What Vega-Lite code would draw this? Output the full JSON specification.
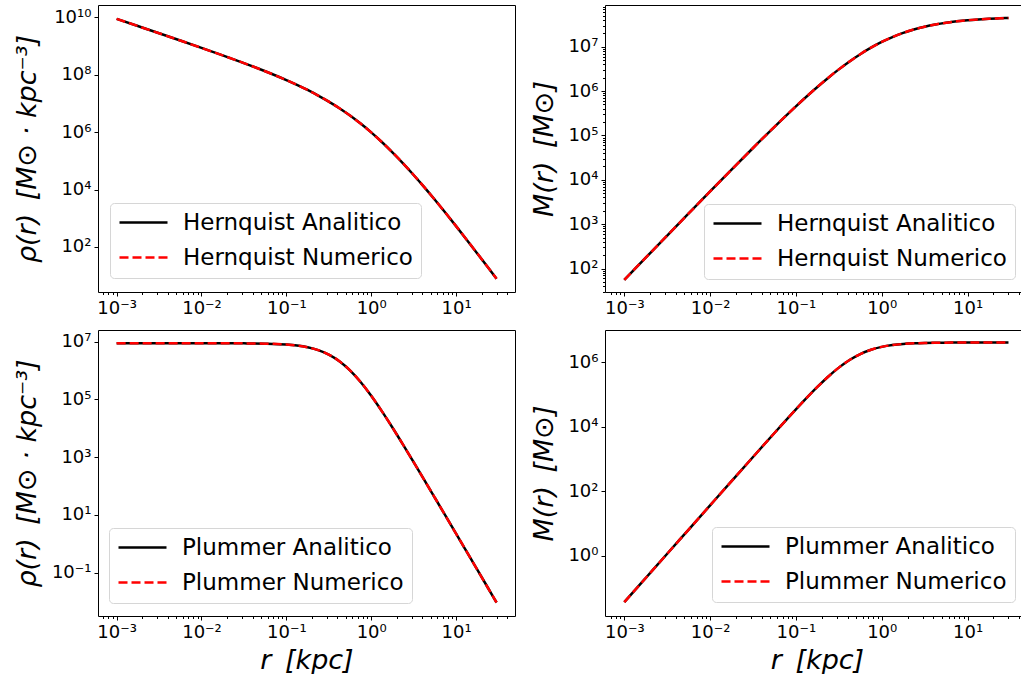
{
  "$schema": "https://vega.github.io/schema/vega-lite/v6.json",
  "padding": {"left": 12, "top": 4, "right": 0, "bottom": 0},
  "background": "white",
  "datasets": {
    "prof": [
      {"r": 0.001, "rhoH": 8.87e9, "MH": 55.8, "rhoP": 8.851e6, "MP": 0.03708},
      {"r": 0.0017783, "rhoH": 4.973e9, "MH": 176.1, "rhoP": 8.8507e6, "MP": 0.2085},
      {"r": 0.0031623, "rhoH": 2.784e9, "MH": 555.1, "rhoP": 8.850e6, "MP": 1.1723},
      {"r": 0.0056234, "rhoH": 1.553e9, "MH": 1746, "rhoP": 8.848e6, "MP": 6.592},
      {"r": 0.01, "rhoH": 8.61e8, "MH": 5470, "rhoP": 8.841e6, "MP": 37.05},
      {"r": 0.017783, "rhoH": 4.723e8, "MH": 1.701e4, "rhoP": 8.821e6, "MP": 208.1},
      {"r": 0.031623, "rhoH": 2.542e8, "MH": 5.224e4, "rhoP": 8.755e6, "MP": 1165},
      {"r": 0.056234, "rhoH": 1.324e8, "MH": 1.570e5, "rhoP": 8.554e6, "MP": 6461},
      {"r": 0.1, "rhoH": 6.527e7, "MH": 4.546e5, "rhoP": 7.96e6, "MP": 3.478e4},
      {"r": 0.13335, "rhoH": 4.444e7, "MH": 7.583e5, "rhoP": 7.350e6, "MP": 7.865e4},
      {"r": 0.17783, "rhoH": 2.943e7, "MH": 1.241e6, "rhoP": 6.418e6, "MP": 1.719e5},
      {"r": 0.23714, "rhoH": 1.885e7, "MH": 1.987e6, "rhoP": 5.128e6, "MP": 3.563e5},
      {"r": 0.31623, "rhoH": 1.159e7, "MH": 3.095e6, "rhoP": 3.594e6, "MP": 6.828e5},
      {"r": 0.4217, "rhoH": 6.801e6, "MH": 4.673e6, "rhoP": 2.118e6, "MP": 1.179e6},
      {"r": 0.56234, "rhoH": 3.782e6, "MH": 6.808e6, "rhoP": 1.021e6, "MP": 1.804e6},
      {"r": 0.74989, "rhoH": 1.984e6, "MH": 9.54e6, "rhoP": 4.03e5, "MP": 2.449e6},
      {"r": 1, "rhoH": 9.79e5, "MH": 1.283e7, "rhoP": 1.343e5, "MP": 3.005e6},
      {"r": 1.3335, "rhoH": 4.539e5, "MH": 1.657e7, "rhoP": 3.945e4, "MP": 3.416e6},
      {"r": 1.7783, "rhoH": 1.983e5, "MH": 2.055e7, "rhoP": 1.0638e4, "MP": 3.689e6},
      {"r": 2.3714, "rhoH": 8.193e4, "MH": 2.455e7, "rhoP": 2720, "MP": 3.860e6},
      {"r": 3.1623, "rhoH": 3.219e4, "MH": 2.839e7, "rhoP": 673.8, "MP": 3.962e6},
      {"r": 4.217, "rhoH": 1.212e4, "MH": 3.188e7, "rhoP": 163.8, "MP": 4.021e6},
      {"r": 5.6234, "rhoH": 4397, "MH": 3.494e7, "rhoP": 39.38, "MP": 4.055e6},
      {"r": 7.4989, "rhoH": 1548, "MH": 3.753e7, "rhoP": 9.415, "MP": 4.075e6},
      {"r": 10, "rhoH": 531.8, "MH": 3.967e7, "rhoP": 2.243, "MP": 4.086e6},
      {"r": 13.335, "rhoH": 179.3, "MH": 4.140e7, "rhoP": 0.5331, "MP": 4.092e6},
      {"r": 17.783, "rhoH": 59.55, "MH": 4.277e7, "rhoP": 0.1266, "MP": 4.095e6},
      {"r": 23.714, "rhoH": 19.54, "MH": 4.384e7, "rhoP": 0.03005, "MP": 4.097e6},
      {"r": 30, "rhoH": 7.81, "MH": 4.453e7, "rhoP": 0.009275, "MP": 4.0973e6}
    ]
  },
  "config": {
    "view": {"stroke": "#000000", "strokeWidth": 1},
    "axis": {
      "domain": false, "grid": false,
      "labelFont": "DejaVu Sans", "labelFontSize": 18, "labelColor": "#000000",
      "labelFlush": false, "labelOverlap": false, "labelPadding": 3,
      "tickColor": "#000000", "tickWidth": 1, "tickSize": 4,
      "titleFont": "DejaVu Sans", "titleFontSize": 27, "titleFontStyle": "italic",
      "titleFontWeight": "normal", "titleColor": "#000000"
    },
    "legend": {
      "orient": "none", "zindex": 5,
      "labelFont": "DejaVu Sans", "labelFontSize": 23, "labelColor": "#000000",
      "labelLimit": 500, "labelOffset": 42,
      "symbolType": "M-1,0L3.8,0", "symbolSize": 400, "symbolStrokeWidth": 2.5,
      "rowPadding": 11, "padding": 8,
      "fillColor": "white", "strokeColor": "#d6d6d6", "cornerRadius": 4
    }
  },
  "spacing": 8,
  "resolve": {"scale": {"color": "independent", "x": "independent", "y": "independent"}, "legend": {"color": "independent"}},
  "vconcat": [
    {
      "spacing": 13,
      "resolve": {"scale": {"color": "independent", "x": "independent", "y": "independent"}, "legend": {"color": "independent"}},
      "hconcat": [
        {
          "width": 417, "height": 287,
          "data": {"name": "prof"},
          "resolve": {"axis": {"x": "independent", "y": "independent"}},
          "layer": [
            {
              "mark": {"type": "line", "strokeWidth": 2.5, "interpolate": "monotone"},
              "encoding": {
                "x": {"field": "r", "type": "quantitative",
                  "scale": {"type": "log", "domain": [0.000603, 49.5], "nice": false},
                  "axis": {"orient": "bottom", "title": null, "values": [0.001, 0.01, 0.1, 1, 10], "minExtent": 28, "maxExtent": 28,
                    "labelExpr": "datum.value < 0.003 ? '10⁻³' : datum.value < 0.03 ? '10⁻²' : datum.value < 0.3 ? '10⁻¹' : datum.value < 3 ? '10⁰' : '10¹'"}},
                "y": {"field": "rhoH", "type": "quantitative",
                  "scale": {"type": "log", "domain": [2.69, 2.69e10], "nice": false},
                  "axis": {"orient": "left", "title": "ρ(r)\u2002[M⊙ · kpc⁻³]", "titlePadding": 7, "values": [100, 10000, 1000000, 100000000, 10000000000], "minExtent": 50, "maxExtent": 50,
                    "labelExpr": "datum.value < 1e3 ? '10²' : datum.value < 1e5 ? '10⁴' : datum.value < 1e7 ? '10⁶' : datum.value < 1e9 ? '10⁸' : '10¹⁰'"}},
                "color": {"datum": "Hernquist Analitico",
                  "scale": {"domain": ["Hernquist Analitico", "Hernquist Numerico"], "range": ["#000000", "#ff0000"]},
                  "legend": {"title": null, "legendX": 12, "legendY": 198,
                    "encode": {"symbols": {"update": {"strokeDash": {"signal": "datum.value == 'Hernquist Numerico' ? [9, 4] : [1, 0]"}}}}}}
              }
            },
            {
              "mark": {"type": "line", "strokeWidth": 2.5, "strokeDash": [9, 4], "interpolate": "monotone"},
              "encoding": {
                "x": {"field": "r", "type": "quantitative",
                  "axis": {"orient": "bottom", "title": null, "labels": false, "tickSize": 2.5, "maxExtent": 3, "minExtent": 0,
                    "values": [0.0007, 0.0008, 0.0009, 0.002, 0.003, 0.004, 0.005, 0.006, 0.007, 0.008, 0.009, 0.02, 0.03, 0.04, 0.05, 0.06, 0.07, 0.08, 0.09, 0.2, 0.3, 0.4, 0.5, 0.6, 0.7, 0.8, 0.9, 2, 3, 4, 5, 6, 7, 8, 9, 20, 30, 40]}},
                "y": {"field": "rhoH", "type": "quantitative", "axis": null},
                "color": {"datum": "Hernquist Numerico"}
              }
            }
          ]
        },
        {
          "width": 419, "height": 287,
          "data": {"name": "prof"},
          "resolve": {"axis": {"x": "independent", "y": "independent"}},
          "layer": [
            {
              "mark": {"type": "line", "strokeWidth": 2.5, "interpolate": "monotone"},
              "encoding": {
                "x": {"field": "r", "type": "quantitative",
                  "scale": {"type": "log", "domain": [0.0005957, 45.5], "nice": false},
                  "axis": {"orient": "bottom", "title": null, "values": [0.001, 0.01, 0.1, 1, 10], "minExtent": 28, "maxExtent": 28,
                    "labelExpr": "datum.value < 0.003 ? '10⁻³' : datum.value < 0.03 ? '10⁻²' : datum.value < 0.3 ? '10⁻¹' : datum.value < 3 ? '10⁰' : '10¹'"}},
                "y": {"field": "MH", "type": "quantitative",
                  "scale": {"type": "log", "domain": [29.6, 8.75e7], "nice": false},
                  "axis": {"orient": "left", "title": "M(r)\u2002[M⊙]", "titlePadding": 8, "values": [100, 1000, 10000, 100000, 1000000, 10000000], "minExtent": 39, "maxExtent": 39,
                    "labelExpr": "datum.value < 3e2 ? '10²' : datum.value < 3e3 ? '10³' : datum.value < 3e4 ? '10⁴' : datum.value < 3e5 ? '10⁵' : datum.value < 3e6 ? '10⁶' : '10⁷'"}},
                "color": {"datum": "Hernquist Analitico",
                  "scale": {"domain": ["Hernquist Analitico", "Hernquist Numerico"], "range": ["#000000", "#ff0000"]},
                  "legend": {"title": null, "legendX": 99, "legendY": 199,
                    "encode": {"symbols": {"update": {"strokeDash": {"signal": "datum.value == 'Hernquist Numerico' ? [9, 4] : [1, 0]"}}}}}}
              }
            },
            {
              "mark": {"type": "line", "strokeWidth": 2.5, "strokeDash": [9, 4], "interpolate": "monotone"},
              "encoding": {
                "x": {"field": "r", "type": "quantitative",
                  "axis": {"orient": "bottom", "title": null, "labels": false, "tickSize": 2.5, "maxExtent": 3, "minExtent": 0,
                    "values": [0.0007, 0.0008, 0.0009, 0.002, 0.003, 0.004, 0.005, 0.006, 0.007, 0.008, 0.009, 0.02, 0.03, 0.04, 0.05, 0.06, 0.07, 0.08, 0.09, 0.2, 0.3, 0.4, 0.5, 0.6, 0.7, 0.8, 0.9, 2, 3, 4, 5, 6, 7, 8, 9, 20, 30, 40]}},
                "y": {"field": "MH", "type": "quantitative",
                  "axis": {"orient": "left", "title": null, "labels": false, "tickSize": 2.5, "maxExtent": 3, "minExtent": 0,
                    "values": [30, 40, 50, 60, 70, 80, 90, 200, 300, 400, 500, 600, 700, 800, 900, 2000, 3000, 4000, 5000, 6000, 7000, 8000, 9000, 20000, 30000, 40000, 50000, 60000, 70000, 80000, 90000, 200000, 300000, 400000, 500000, 600000, 700000, 800000, 900000, 2000000, 3000000, 4000000, 5000000, 6000000, 7000000, 8000000, 9000000, 20000000, 30000000, 40000000, 50000000, 60000000, 70000000, 80000000]}},
                "color": {"datum": "Hernquist Numerico"}
              }
            }
          ]
        }
      ]
    },
    {
      "spacing": 13,
      "resolve": {"scale": {"color": "independent", "x": "independent", "y": "independent"}, "legend": {"color": "independent"}},
      "hconcat": [
        {
          "width": 417, "height": 286,
          "data": {"name": "prof"},
          "resolve": {"axis": {"x": "independent", "y": "independent"}},
          "layer": [
            {
              "mark": {"type": "line", "strokeWidth": 2.5, "interpolate": "monotone"},
              "encoding": {
                "x": {"field": "r", "type": "quantitative",
                  "scale": {"type": "log", "domain": [0.000603, 49.5], "nice": false},
                  "axis": {"orient": "bottom", "title": "r\u2002[kpc]", "titlePadding": 3, "values": [0.001, 0.01, 0.1, 1, 10], "minExtent": 28, "maxExtent": 28,
                    "labelExpr": "datum.value < 0.003 ? '10⁻³' : datum.value < 0.03 ? '10⁻²' : datum.value < 0.3 ? '10⁻¹' : datum.value < 3 ? '10⁰' : '10¹'"}},
                "y": {"field": "rhoP", "type": "quantitative",
                  "scale": {"type": "log", "domain": [0.00316, 2.54e7], "nice": false},
                  "axis": {"orient": "left", "title": "ρ(r)\u2002[M⊙ · kpc⁻³]", "titlePadding": 7, "values": [0.1, 10, 1000, 100000, 10000000], "minExtent": 50, "maxExtent": 50,
                    "labelExpr": "datum.value < 1 ? '10⁻¹' : datum.value < 100 ? '10¹' : datum.value < 1e4 ? '10³' : datum.value < 1e6 ? '10⁵' : '10⁷'"}},
                "color": {"datum": "Plummer Analitico",
                  "scale": {"domain": ["Plummer Analitico", "Plummer Numerico"], "range": ["#000000", "#ff0000"]},
                  "legend": {"title": null, "legendX": 11, "legendY": 198,
                    "encode": {"symbols": {"update": {"strokeDash": {"signal": "datum.value == 'Plummer Numerico' ? [9, 4] : [1, 0]"}}}}}}
              }
            },
            {
              "mark": {"type": "line", "strokeWidth": 2.5, "strokeDash": [9, 4], "interpolate": "monotone"},
              "encoding": {
                "x": {"field": "r", "type": "quantitative",
                  "axis": {"orient": "bottom", "title": null, "labels": false, "tickSize": 2.5, "maxExtent": 3, "minExtent": 0,
                    "values": [0.0007, 0.0008, 0.0009, 0.002, 0.003, 0.004, 0.005, 0.006, 0.007, 0.008, 0.009, 0.02, 0.03, 0.04, 0.05, 0.06, 0.07, 0.08, 0.09, 0.2, 0.3, 0.4, 0.5, 0.6, 0.7, 0.8, 0.9, 2, 3, 4, 5, 6, 7, 8, 9, 20, 30, 40]}},
                "y": {"field": "rhoP", "type": "quantitative", "axis": null},
                "color": {"datum": "Plummer Numerico"}
              }
            }
          ]
        },
        {
          "width": 419, "height": 286,
          "data": {"name": "prof"},
          "resolve": {"axis": {"x": "independent", "y": "independent"}},
          "layer": [
            {
              "mark": {"type": "line", "strokeWidth": 2.5, "interpolate": "monotone"},
              "encoding": {
                "x": {"field": "r", "type": "quantitative",
                  "scale": {"type": "log", "domain": [0.0005957, 45.5], "nice": false},
                  "axis": {"orient": "bottom", "title": "r\u2002[kpc]", "titlePadding": 3, "titleX": 212, "values": [0.001, 0.01, 0.1, 1, 10], "minExtent": 28, "maxExtent": 28,
                    "labelExpr": "datum.value < 0.003 ? '10⁻³' : datum.value < 0.03 ? '10⁻²' : datum.value < 0.3 ? '10⁻¹' : datum.value < 3 ? '10⁰' : '10¹'"}},
                "y": {"field": "MP", "type": "quantitative",
                  "scale": {"type": "log", "domain": [0.01384, 1.0e7], "nice": false},
                  "axis": {"orient": "left", "title": "M(r)\u2002[M⊙]", "titlePadding": 8, "values": [1, 100, 10000, 1000000], "minExtent": 39, "maxExtent": 39,
                    "labelExpr": "datum.value < 10 ? '10⁰' : datum.value < 1e3 ? '10²' : datum.value < 1e5 ? '10⁴' : '10⁶'"}},
                "color": {"datum": "Plummer Analitico",
                  "scale": {"domain": ["Plummer Analitico", "Plummer Numerico"], "range": ["#000000", "#ff0000"]},
                  "legend": {"title": null, "legendX": 107, "legendY": 197,
                    "encode": {"symbols": {"update": {"strokeDash": {"signal": "datum.value == 'Plummer Numerico' ? [9, 4] : [1, 0]"}}}}}}
              }
            },
            {
              "mark": {"type": "line", "strokeWidth": 2.5, "strokeDash": [9, 4], "interpolate": "monotone"},
              "encoding": {
                "x": {"field": "r", "type": "quantitative",
                  "axis": {"orient": "bottom", "title": null, "labels": false, "tickSize": 2.5, "maxExtent": 3, "minExtent": 0,
                    "values": [0.0007, 0.0008, 0.0009, 0.002, 0.003, 0.004, 0.005, 0.006, 0.007, 0.008, 0.009, 0.02, 0.03, 0.04, 0.05, 0.06, 0.07, 0.08, 0.09, 0.2, 0.3, 0.4, 0.5, 0.6, 0.7, 0.8, 0.9, 2, 3, 4, 5, 6, 7, 8, 9, 20, 30, 40]}},
                "y": {"field": "MP", "type": "quantitative", "axis": null},
                "color": {"datum": "Plummer Numerico"}
              }
            }
          ]
        }
      ]
    }
  ]
}
